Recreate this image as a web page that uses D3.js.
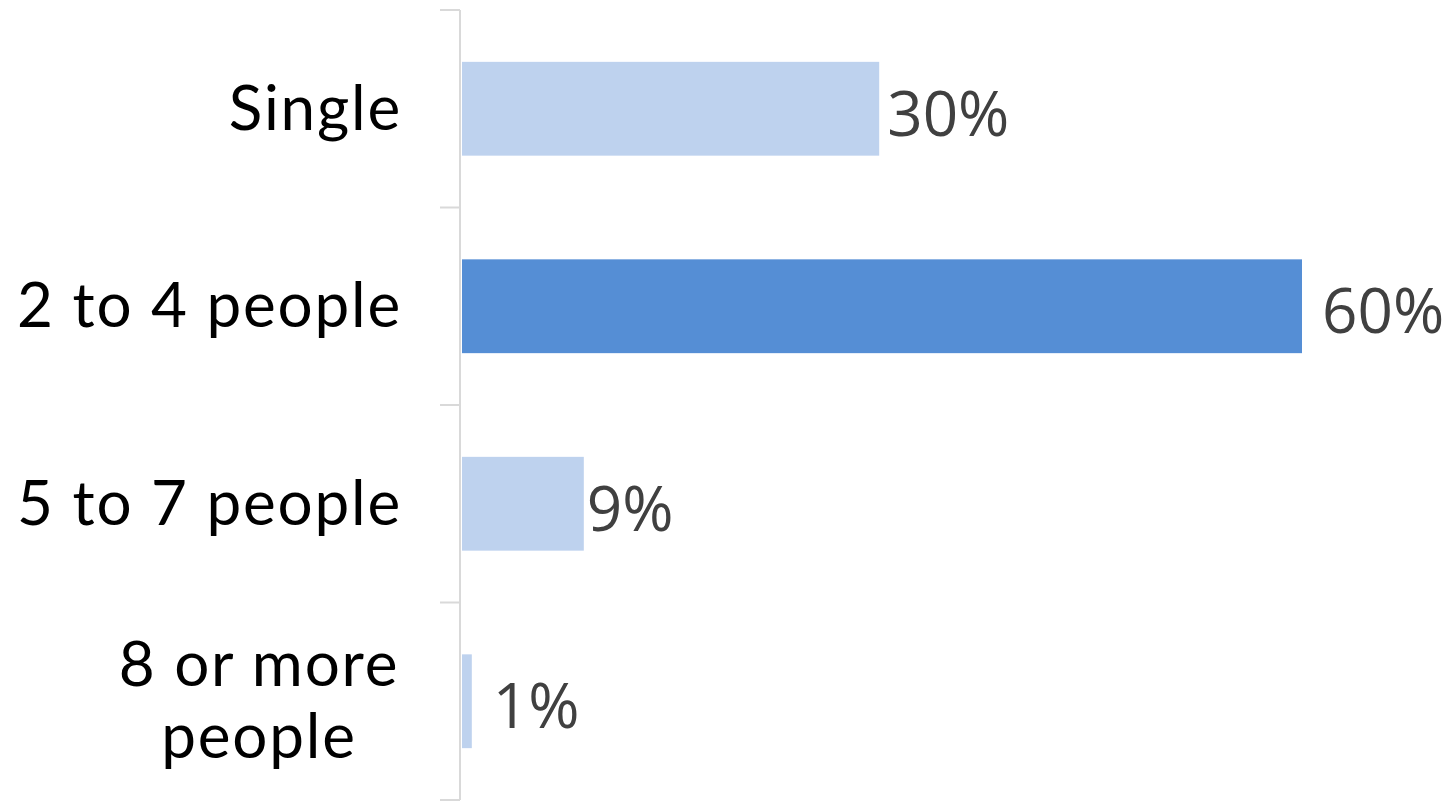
<!DOCTYPE html>
<html><head><meta charset="utf-8">
<script src="https://cdn.jsdelivr.net/npm/d3@7"></script>
<style>html,body{margin:0;padding:0;background:#fff;}</style>
</head><body>
<svg id="c" width="1446" height="801"></svg>
<script>
const categories = ["Single", "2 to 4 people", "5 to 7 people", "8 or more people"];
const labelLines = [["Single"], ["2 to 4 people"], ["5 to 7 people"], ["8 or more", "people"]];
const values = [29.8, 60.0, 8.7, 0.7];
const valueLabels = ["30%", "60%", "9%", "1%"];
const highlight = [false, true, false, false];

const labelDx = [8, 20, 3, 21];

const svg = d3.select("#c");
const x0 = 460;
const x = d3.scaleLinear().domain([0, 60]).range([x0 + 2, 1302]);
const y = d3.scaleBand().domain(categories).range([10, 800]).paddingInner(0.525).paddingOuter(0.2625);

// axis
svg.append("line").attr("x1", x0).attr("x2", x0).attr("y1", 10).attr("y2", 800)
  .attr("stroke", "#d9d9d9").attr("stroke-width", 2);
const step = y.step();
const tickYs = d3.range(categories.length + 1).map(i => 10 + i * step);
svg.selectAll("line.tick").data(tickYs).join("line").attr("class", "tick")
  .attr("x1", 440).attr("x2", x0).attr("y1", d => d).attr("y2", d => d)
  .attr("stroke", "#d9d9d9").attr("stroke-width", 2);

// bars
svg.selectAll("rect.bar").data(categories).join("rect").attr("class", "bar")
  .attr("x", x(0)).attr("y", d => y(d))
  .attr("width", (d, i) => x(values[i]) - x(0)).attr("height", y.bandwidth())
  .attr("fill", (d, i) => highlight[i] ? "#558ed5" : "#bed2ee");

// value labels
svg.selectAll("text.val").data(categories).join("text").attr("class", "val")
  .attr("x", (d, i) => x(values[i]) + labelDx[i])
  .attr("y", d => y(d) + y.bandwidth() / 2 + 27)
  .attr("font-family", "'Open Sans', sans-serif").attr("font-size", 62)
  .attr("fill", "#404040")
  .text((d, i) => valueLabels[i]);

// category labels
categories.forEach((c, i) => {
  const lines = labelLines[i];
  const cy = y(c) + y.bandwidth() / 2;
  const lh = 72;
  const multi = lines.length > 1;
  const t = svg.append("text")
    .attr("font-family", "Lato, sans-serif").attr("font-size", 62)
    .attr("font-weight", 400)
    .attr("letter-spacing", 1.8)
    .attr("fill", "#000")
    .attr("text-anchor", multi ? "middle" : "end");
  lines.forEach((l, j) => {
    t.append("tspan").attr("x", multi ? 259 : 402)
      .attr("y", cy + 21 + (j - (lines.length - 1) / 2) * lh).text(l);
  });
});
</script>
</body></html>
